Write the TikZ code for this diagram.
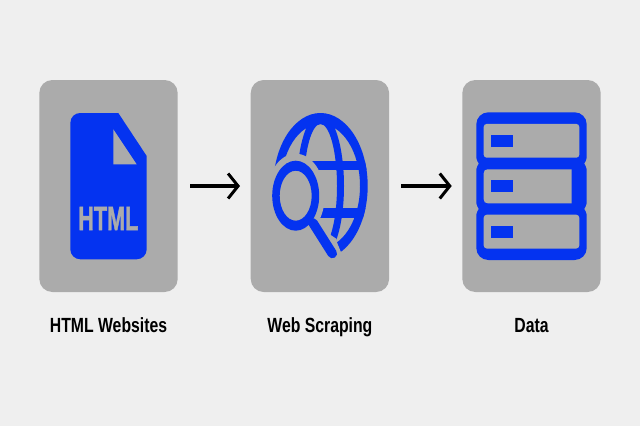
\documentclass[tikz,border=0pt]{standalone}
\usepackage{fontspec}
\setmainfont{Liberation Sans}
\newfontfamily\heavyfont[BoldFeatures={FakeBold=1.6}]{Liberation Sans}
\usetikzlibrary{arrows.meta}
\definecolor{pagebg}{HTML}{EFEFEF}
\definecolor{panelgray}{HTML}{ABABAB}
\definecolor{iconblue}{HTML}{0433F0}
\tikzset{
  panel/.style={fill=panelgray,rounded corners=13pt,minimum width=138.4pt,minimum height=212pt,inner sep=0pt,outer sep=0pt},
  flow/.style={draw=black,line width=3.4pt,-{Straight Barb[length=10pt,width=25pt,line width=3pt]}},
  caption/.style={font=\bfseries\fontsize{20.5}{22}\selectfont,xscale=.77,inner sep=0pt,anchor=base},
  blue/.style={fill=iconblue,draw=none},
  hole/.style={fill=panelgray,draw=none}
}
\begin{document}
\begin{tikzpicture}[x=1pt,y=-1pt]
\useasboundingbox (0,0) rectangle (640,426);
\fill[pagebg] (0,0) rectangle (640,426);
\node[panel] (p1) at (108.5,186) {};
\node[panel] (p2) at (319.9,186) {};
\node[panel] (p3) at (531.5,186) {};
\draw[flow,shorten <=12.3pt,shorten >=10.7pt] (p1) -- (p2);
\draw[flow,shorten <=12pt,shorten >=10.6pt] (p2) -- (p3);
% document
\path[blue] (80.3,113) -- (118.3,113) -- (146.7,156) -- (146.7,249.3)
  .. controls (146.7,255) and (142,259.3) .. (136.7,259.3) -- (80.3,259.3)
  .. controls (75,259.3) and (70.3,255) .. (70.3,249.3) -- (70.3,123)
  .. controls (70.3,117) and (75,113) .. (80.3,113) -- cycle;
\path[hole] (113.3,129.3) -- (113.3,164.3) -- (136.7,164.3) -- cycle;
\node[font=\heavyfont\bfseries\fontsize{33.5}{36}\selectfont,text=panelgray,xscale=.645,inner sep=0pt,anchor=base] (htmltag) at (108.3,230) {HTML};
% globe
\begin{scope}
\clip (320.5,186) ellipse [x radius=47.2,y radius=73];
\path[blue] (300,160.8) rectangle (370,170.3);
\path[blue] (300,208.3) rectangle (370,218.3);
\end{scope}
\path[blue,even odd rule] (320.5,186) ellipse [x radius=47.2,y radius=73] (320.5,186) ellipse [x radius=39.5,y radius=62];
\path[blue,even odd rule] (320.5,186) ellipse [x radius=23.5,y radius=73] (320.5,186) ellipse [x radius=16.5,y radius=62];
% lens halo
\path[hole] (295.7,195.7) ellipse [x radius=29,y radius=42];
\path[hole] (320,219) -- (330.7,235) -- (336.7,239) -- (336.7,241.7) -- (341,252.3) -- (341,262) -- (262,262) -- (262,200) -- cycle;
\path[blue,even odd rule] (295.7,195.7) ellipse [x radius=23.5,y radius=35] (295.7,195.7) ellipse [x radius=16,y radius=25];
\draw[iconblue,line width=9.5pt,line cap=round] (313,223) -- (332.3,253.5);
% database
\path[blue,rounded corners=12pt] (476.3,112.3) rectangle (586.7,260);
\foreach \ny in {163.6,208.9}{
  \path[hole] (475.8,\ny-6) .. controls (476.6,\ny-3) and (478,\ny-1.5) .. (478.6,\ny) .. controls (478,\ny+1.5) and (476.6,\ny+3) .. (475.8,\ny+6) -- cycle;
  \path[hole] (587.2,\ny-6) .. controls (586.4,\ny-3) and (585,\ny-1.5) .. (584.4,\ny) .. controls (585,\ny+1.5) and (586.4,\ny+3) .. (587.2,\ny+6) -- cycle;
}
\foreach \cy in {0,90.8}{
  \path[hole,rounded corners=3pt] (483.7,123.9+\cy) rectangle (579.3,157.7+\cy);
}
\path[hole] (487.7,169.3) -- (571.7,169.3) -- (571.7,203.3) -- (487.7,203.3) .. controls (485,203.3) and (483.7,202) .. (483.7,199.3) -- (483.7,173.3) .. controls (483.7,170.6) and (485,169.3) .. (487.7,169.3) -- cycle;
\foreach \cy in {0,45.4,90.8}{
  \path[blue] (490.7,135+\cy) rectangle (513.3,146.7+\cy);
}
% captions
\node[caption] (c1) at (108.5,332) {HTML Websites};
\node[caption] (c2) at (319.9,332) {Web Scraping};
\node[caption] (c3) at (531.5,332) {Data};
\end{tikzpicture}
\end{document}
